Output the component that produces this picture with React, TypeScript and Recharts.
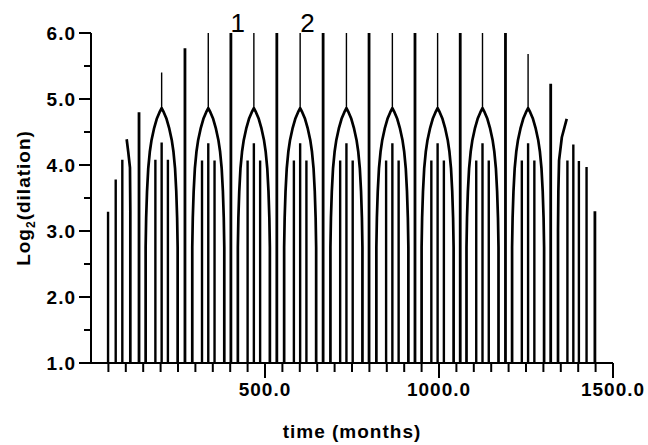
import { LineChart, Line, XAxis, YAxis, ReferenceDot } from 'recharts';

// centres (months) of the complete arches
const archCenters = [203, 337, 468, 601, 734, 866, 996, 1125, 1256];
// thin spike rising from the top of each arch
const spikeTops = [5.4, 6.0, 6.0, 6.0, 6.0, 6.0, 6.0, 6.0, 5.68];
// half profile of an arch: distance from centre (months) -> log2(dilation)
const archOffsets = [0, 6, 14, 22, 29, 34, 38.5, 42, 44.5, 46];
const archValues = [4.86, 4.8, 4.7, 4.55, 4.38, 4.2, 3.95, 3.6, 3.2, 2.75];

// tall lines between the arches
const tallX = [138, 270, 402, 534, 667, 799, 931, 1061, 1191, 1321, 1448];
const tallTops = [4.8, 5.77, 6.0, 6.0, 6.0, 6.0, 6.0, 6.0, 6.0, 5.23, 3.3];

// short lines inside each arch
const innerX = [
  49, 71, 90, 185, 203, 221, 319, 337, 355, 450, 468, 486, 583, 601, 619,
  716, 734, 752, 848, 866, 884, 978, 996, 1014, 1107, 1125, 1143,
  1238, 1256, 1274, 1369, 1386, 1402, 1424,
];
const innerTops = [
  3.29, 3.78, 4.08, 4.08, 4.34, 4.08, 4.07, 4.33, 4.07, 4.07, 4.33, 4.07,
  4.07, 4.33, 4.07, 4.07, 4.33, 4.07, 4.07, 4.33, 4.07, 4.07, 4.33, 4.07,
  4.07, 4.33, 4.07, 4.07, 4.33, 4.07, 4.07, 4.31, 4.06, 3.97,
];

// the cut arches at both ends
const leftArchX = [102.5, 107, 112, 113, 113];
const leftArchY = [4.39, 4.2, 3.96, 3.3, 1];
const rightArchX = [1342, 1342, 1343, 1345, 1353, 1367];
const rightArchY = [1, 3.0, 3.6, 4.07, 4.42, 4.7];

const xTicks = Array.from({ length: 30 }, (_, i) => (i + 1) * 50);
const yTicks = [1, 1.5, 2, 2.5, 3, 3.5, 4, 4.5, 5, 5.5, 6];

type Pt = { x: number; y: number | null };

const verticals = (xs: number[], tops: number[]): Pt[] =>
  xs.flatMap((x, i) => [
    { x, y: 1 },
    { x, y: tops[i] },
    { x, y: null },
  ]);

const tallData = verticals(tallX, tallTops);
const innerData = verticals(innerX, innerTops);

const spikeData: Pt[] = archCenters.flatMap((c, i) => [
  { x: c, y: archValues[0] },
  { x: c, y: spikeTops[i] },
  { x: c, y: null },
]);

const archData: Pt[] = archCenters.flatMap((c) => {
  const last = archOffsets.length - 1;
  const left: Pt[] = [];
  for (let i = last; i >= 0; i--) left.push({ x: c - archOffsets[i], y: archValues[i] });
  const right: Pt[] = [];
  for (let i = 1; i <= last; i++) right.push({ x: c + archOffsets[i], y: archValues[i] });
  return [
    { x: c - archOffsets[last], y: 1 },
    ...left,
    ...right,
    { x: c + archOffsets[last], y: 1 },
    { x: c, y: null },
  ];
});

const edgeData: Pt[] = [
  ...leftArchX.map((x, i) => ({ x, y: leftArchY[i] })),
  { x: 200, y: null },
  ...rightArchX.map((x, i) => ({ x, y: rightArchY[i] })),
];

const font = "'Liberation Sans', Arial, sans-serif";

const YTick = (props: any) => {
  const { x, y, payload } = props;
  const v = payload.value as number;
  const major = Number.isInteger(v);
  const len = major ? 12 : 7;
  return (
    <g>
      <line x1={x - len} x2={x} y1={y} y2={y} stroke="#000" strokeWidth={2} />
      {major && (
        <text x={x - 15} y={y + 7} textAnchor="end" fontFamily={font} fontWeight={700}
          fontSize={19} letterSpacing={1} fill="#000">
          {v.toFixed(1)}
        </text>
      )}
    </g>
  );
};

const XTick = (props: any) => {
  const { x, y, payload } = props;
  const v = payload.value as number;
  const major = v % 500 === 0;
  const len = major ? 15 : 9;
  return (
    <g>
      <line x1={x} x2={x} y1={y} y2={y + len} stroke="#000" strokeWidth={2} />
      {major && (
        <text x={x} y={y + 33} textAnchor="middle" fontFamily={font} fontWeight={700}
          fontSize={19} letterSpacing={1} fill="#000">
          {v.toFixed(1)}
        </text>
      )}
    </g>
  );
};

const YTitle = () => (
  <text transform="rotate(-90 23 198)" x={23} y={198} dy={7} textAnchor="middle"
    fontFamily={font} fontWeight={700} fontSize={19} letterSpacing={1} fill="#000">
    Log<tspan fontSize={12} dy={5}>2</tspan>
    <tspan dy={-5}>(dilation)</tspan>
  </text>
);

const XTitle = () => (
  <text x={352} y={438} textAnchor="middle" fontFamily={font} fontWeight={700}
    fontSize={19} letterSpacing={1} fill="#000">
    time (months)
  </text>
);

const markLabel = { position: 'top' as const, offset: 1, fill: '#000', fontSize: 26, fontFamily: font };

export default function App() {
  return (
    <div style={{ width: 648, height: 445, background: '#fff' }}>
      <style>{'body{margin:0}'}</style>
      <LineChart width={648} height={445} margin={{ top: 33, right: 35, bottom: 0, left: 0 }}>
        <XAxis
          dataKey="x"
          type="number"
          domain={[0, 1500]}
          ticks={xTicks}
          interval={0}
          height={82}
          tickSize={0}
          tickMargin={0}
          tickLine={false}
          tick={<XTick />}
          axisLine={{ stroke: '#000', strokeWidth: 2 }}
          label={<XTitle />}
        />
        <YAxis
          type="number"
          domain={[1, 6]}
          ticks={yTicks}
          interval={0}
          width={91}
          tickSize={0}
          tickMargin={0}
          tickLine={false}
          tick={<YTick />}
          axisLine={{ stroke: '#000', strokeWidth: 2 }}
          label={<YTitle />}
        />
        <Line data={tallData} dataKey="y" stroke="#000" strokeWidth={2.8} dot={false}
          activeDot={false} isAnimationActive={false} />
        <Line data={innerData} dataKey="y" stroke="#000" strokeWidth={2.4} dot={false}
          activeDot={false} isAnimationActive={false} />
        <Line data={spikeData} dataKey="y" stroke="#000" strokeWidth={1.4} dot={false}
          activeDot={false} isAnimationActive={false} />
        <Line data={archData} dataKey="y" stroke="#000" strokeWidth={2.7} dot={false}
          activeDot={false} isAnimationActive={false} strokeLinejoin="round" />
        <Line data={edgeData} dataKey="y" stroke="#000" strokeWidth={2.7} dot={false}
          activeDot={false} isAnimationActive={false} strokeLinejoin="round" />
        <ReferenceDot x={422} y={6} r={0} stroke="none" fill="none" label={{ value: '1', ...markLabel }} />
        <ReferenceDot x={622} y={6} r={0} stroke="none" fill="none" label={{ value: '2', ...markLabel }} />
      </LineChart>
    </div>
  );
}
